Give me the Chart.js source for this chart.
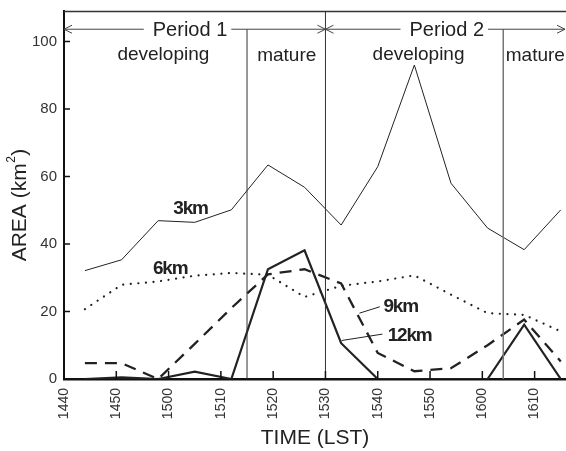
<!DOCTYPE html>
<html>
<head>
<meta charset="utf-8">
<title>Area by height</title>
<script src="https://cdn.jsdelivr.net/npm/chart.js"></script>
<style>
body { margin: 0; background: #fff; }
#wrap { width: 566px; height: 451px; }
</style>
</head>
<body>
<div id="wrap"><canvas id="myChart"></canvas></div>
<script>
// sample times (HHMM, LST) and echo areas (km2) for each height
const times = ['1444','1451','1458','1505','1512','1519','1526','1533','1540','1547','1554','1601','1608','1615'];
const area3km  = [32.1, 35.3, 46.9, 46.4, 50.1, 63.4, 56.8, 45.6, 62.9, 93.0, 58.0, 44.7, 38.3, 50.1];
const area6km  = [20.7, 27.9, 28.9, 30.6, 31.4, 30.9, 24.3, 27.6, 28.9, 30.7, 25.0, 19.5, 19.0, 14.1];
const area9km  = [4.7, 4.7, 0, 10.4, 21.0, 31.0, 32.5, 28.3, 7.7, 2.3, 3.2, 10.0, 17.6, 5.2];
const area12km = [0, 0.5, 0, 2.2, 0, 32.5, 38.1, 10.6, 0, 0, 0, 0, 16.1, 0];

const xTickLabels = ['1440','1450','1500','1510','1520','1530','1540','1550','1600','1610'];
const yTicks = [0, 20, 40, 60, 80, 100];

// phase boundaries: end of period 1 developing, end of period 1, end of period 2 developing
const phaseLines = ['1515', '1530', '1604'];

// minutes since 14:40
function toMin(s) {
  const h = parseInt(s.slice(0, 2), 10), m = parseInt(s.slice(2), 10);
  return h * 60 + m - (14 * 60 + 40);
}

function pts(vals) {
  return vals.map((v, i) => ({ x: toMin(times[i]), y: v }));
}

// text notes, placed in data units (minutes, km2)
const seriesNotes = [
  { text: '3km',  t: 20.9, v: 48.8 },
  { text: '6km',  t: 17.0, v: 31.2 },
  { text: '9km',  t: 61.1, v: 19.8 },
  { text: '12km', t: 61.9, v: 11.2 }
];
const leaders = [
  [56.5, 19.5, 60.4, 21.4],
  [53.1, 11.4, 60.9, 13.3]
];

const decor = {
  id: 'decor',
  afterDatasetsDraw(chart) {
    const ctx = chart.ctx, xs = chart.scales.x, ys = chart.scales.y;
    const a = chart.chartArea;
    const X = m => xs.getPixelForValue(m), Y = v => ys.getPixelForValue(v);
    ctx.save();

    // top frame line
    ctx.strokeStyle = '#333';
    ctx.lineWidth = 1.5;
    ctx.beginPath();
    ctx.moveTo(a.left, a.top + 0.5);
    ctx.lineTo(a.right, a.top + 0.5);
    ctx.stroke();

    const arrowY = Y(103.6);

    // phase boundary lines
    phaseLines.forEach((s, i) => {
      const x = X(toMin(s));
      ctx.strokeStyle = i === 2 ? '#777' : '#333';
      ctx.lineWidth = i === 2 ? 1.5 : 1;
      ctx.beginPath();
      ctx.moveTo(x, i === 1 ? a.top : arrowY);
      ctx.lineTo(x, a.bottom);
      ctx.stroke();
    });

    // period arrows with labels
    ctx.font = '20px "Liberation Sans", Arial, sans-serif';
    ctx.fillStyle = '#222';
    ctx.textAlign = 'center';
    ctx.textBaseline = 'alphabetic';
    const periods = [
      { text: 'Period 1', from: 0, to: 50, c: 24.1 },
      { text: 'Period 2', from: 50, to: 96, c: 73.2 }
    ];
    ctx.strokeStyle = '#444';
    ctx.lineWidth = 1;
    periods.forEach(p => {
      const x0 = X(p.from), x1 = Math.min(X(p.to), a.right - 1), xc = X(p.c);
      const w = ctx.measureText(p.text).width;
      ctx.fillText(p.text, xc, Y(101.6));
      ctx.beginPath();
      ctx.moveTo(x0, arrowY); ctx.lineTo(xc - w / 2 - 9, arrowY);
      ctx.moveTo(xc + w / 2 + 4, arrowY); ctx.lineTo(x1, arrowY);
      // heads
      ctx.moveTo(x0 + 8, arrowY - 4); ctx.lineTo(x0, arrowY); ctx.lineTo(x0 + 8, arrowY + 4);
      ctx.moveTo(x1 - 8, arrowY - 4); ctx.lineTo(x1, arrowY); ctx.lineTo(x1 - 8, arrowY + 4);
      ctx.stroke();
    });

    // phase names
    ctx.font = '19px "Liberation Sans", Arial, sans-serif';
    ctx.fillText('developing', X(19.0), Y(94.5));
    ctx.fillText('mature', X(42.6), Y(94.2));
    ctx.fillText('developing', X(67.8), Y(94.5));
    ctx.textAlign = 'left';
    ctx.fillText('mature', X(toMin('1604')) + 2.5, Y(94.2));

    // series notes
    ctx.font = 'bold 19px "Liberation Sans", Arial, sans-serif';
    ctx.letterSpacing = '-1.2px';
    ctx.fillStyle = '#222';
    seriesNotes.forEach(n => ctx.fillText(n.text, X(n.t), Y(n.v)));
    ctx.letterSpacing = '0px';
    ctx.strokeStyle = '#222';
    ctx.lineWidth = 1;
    leaders.forEach(l => {
      ctx.beginPath();
      ctx.moveTo(X(l[0]), Y(l[1]));
      ctx.lineTo(X(l[2]), Y(l[3]));
      ctx.stroke();
    });
    ctx.restore();
  },
  afterDraw(chart) {
    const ctx = chart.ctx, xs = chart.scales.x, ys = chart.scales.y;
    const a = chart.chartArea;
    ctx.save();
    // inward ticks
    ctx.strokeStyle = '#111';
    ctx.lineWidth = 1.5;
    ctx.beginPath();
    yTicks.forEach(v => {
      const y = ys.getPixelForValue(v);
      ctx.moveTo(a.left, y); ctx.lineTo(a.left + 6, y);
    });
    xTickLabels.forEach(s => {
      const x = xs.getPixelForValue(toMin(s));
      ctx.moveTo(x, a.bottom); ctx.lineTo(x, a.bottom - 8);
    });
    ctx.stroke();

    // y axis title with superscript
    ctx.translate(20, 205);
    ctx.rotate(-Math.PI / 2);
    ctx.fillStyle = '#222';
    ctx.textBaseline = 'middle';
    const big = '21px "Liberation Sans", Arial, sans-serif';
    const small = '12px "Liberation Sans", Arial, sans-serif';
    ctx.font = big;
    const w1 = ctx.measureText('AREA (km').width, w3 = ctx.measureText(')').width;
    ctx.font = small;
    const w2 = ctx.measureText('2').width + 1;
    let x = -(w1 + w2 + w3) / 2;
    ctx.textAlign = 'left';
    ctx.font = big;
    ctx.fillText('AREA (km', x, 0);
    ctx.font = small;
    ctx.fillText('2', x + w1 + 0.5, -8);
    ctx.font = big;
    ctx.fillText(')', x + w1 + w2, 0);
    ctx.restore();
  }
};

const ctx = document.getElementById('myChart');
new Chart(ctx, {
  type: 'line',
  data: {
    datasets: [
      { label: '3km', data: pts(area3km), borderColor: '#222', borderWidth: 1 },
      { label: '6km', data: pts(area6km), borderColor: '#222', borderWidth: 2.2,
        borderDash: [0.1, 7.5], borderCapStyle: 'round' },
      { label: '9km', data: pts(area9km), borderColor: '#222', borderWidth: 2.3,
        borderDash: [12, 8] },
      { label: '12km', data: pts(area12km), borderColor: '#222', borderWidth: 2.2 }
    ]
  },
  options: {
    responsive: true,
    maintainAspectRatio: false,
    animation: false,
    layout: { padding: { top: 11, right: 0, left: 0, bottom: 0 } },
    elements: { point: { radius: 0 }, line: { tension: 0 } },
    plugins: { legend: { display: false }, tooltip: { enabled: false } },
    scales: {
      x: {
        type: 'linear',
        min: 0,
        max: 96,
        afterBuildTicks: s => { s.ticks = xTickLabels.map(l => ({ value: toMin(l) })); },
        afterFit: s => { s.height = 72; s.paddingLeft = 0; s.paddingRight = 0; },
        grid: { display: false, drawTicks: false },
        border: { display: true, color: '#111', width: 2.5 },
        ticks: {
          autoSkip: false, minRotation: 90, maxRotation: 90, padding: 9,
          color: '#333', font: { family: '"Liberation Sans", Arial, sans-serif', size: 14 },
          callback: (v, i) => xTickLabels[i]
        },
        title: {
          display: true, text: 'TIME (LST)', color: '#222',
          font: { family: '"Liberation Sans", Arial, sans-serif', size: 21 },
          padding: { top: 2, bottom: 0 }
        }
      },
      y: {
        min: 0,
        max: 109,
        afterBuildTicks: s => { s.ticks = yTicks.map(v => ({ value: v })); },
        afterFit: s => { s.width = 64; s.paddingTop = 0; s.paddingBottom = 0; },
        grid: { display: false, drawTicks: false },
        border: { display: true, color: '#111', width: 2 },
        ticks: {
          padding: 7, color: '#333',
          font: { family: '"Liberation Sans", Arial, sans-serif', size: 15 }
        }
      }
    }
  },
  plugins: [decor]
});
</script>
</body>
</html>
